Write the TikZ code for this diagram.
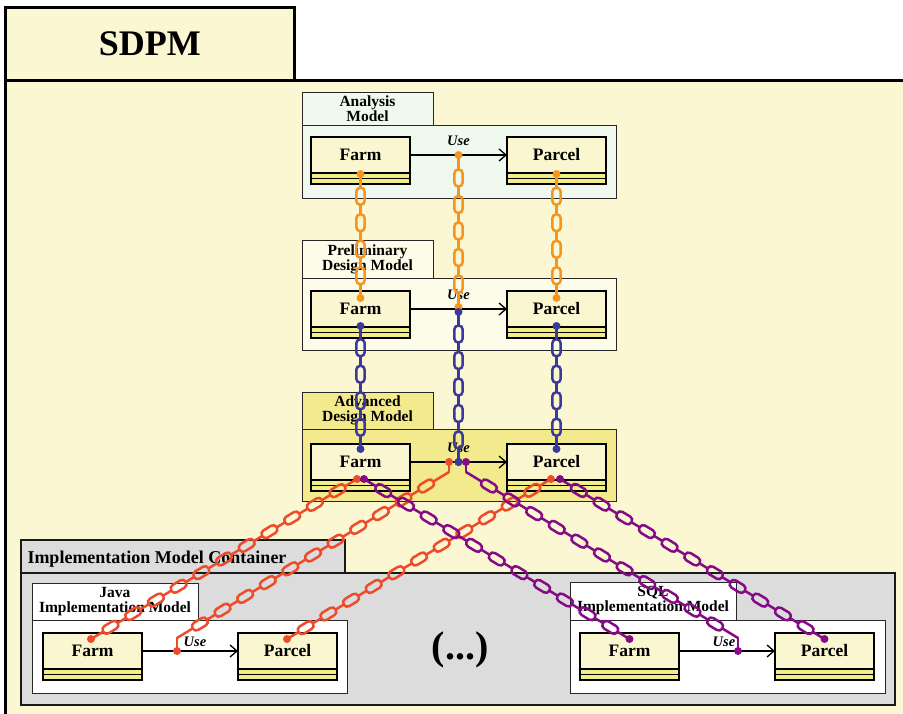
\documentclass[tikz,border=0pt]{standalone}
\usepackage{fontspec}
\setmainfont{Liberation Serif}
\usetikzlibrary{arrows.meta,calc}

\definecolor{bgcream}{HTML}{FAF7D2}
\definecolor{anafill}{HTML}{EFF9EE}
\definecolor{prefill}{HTML}{FDFCE8}
\definecolor{advfill}{HTML}{F2EA8C}
\definecolor{clsfill}{HTML}{FAF7D0}
\definecolor{stripe}{HTML}{F4EE86}
\definecolor{contgray}{HTML}{DCDCDC}
\definecolor{chorange}{HTML}{F7941D}
\definecolor{chblue}{HTML}{3A3A9A}
\definecolor{chred}{HTML}{EE4B2B}
\definecolor{chpurple}{HTML}{850A85}

\tikzset{
  every node/.style={outer sep=0pt, inner sep=0pt},
  pkgbox/.style={draw=black!85, line width=1pt, anchor=north west},
  pkgtext/.style={font=\bfseries\fontsize{15.5}{15}\selectfont, align=center},
  clsname/.style={draw=black, line width=1.3pt, fill=clsfill, anchor=north west,
    minimum width=99pt, minimum height=36pt, font=\bfseries\fontsize{17.5}{18}\selectfont},
  usearrow/.style={line width=1.3pt, -{Straight Barb[length=7pt,width=12pt]}},
  uselabel/.style={font=\bfseries\itshape\fontsize{14.5}{15}\selectfont, anchor=base},
  chainline/.style={line width=2.5pt, line cap=round},
}

% class box: name, x, y, label
\newcommand\classbox[4]{%
  \node[clsname] (#1) at (#2,#3) {#4};
  \draw[line width=1.3pt, fill=stripe] (#1.south west) rectangle ++(99,5.5);
  \draw[line width=1.3pt, fill=stripe] ($(#1.south west)+(0,5.5)$) rectangle ++(99,5.5);
}

% package: name, x, ytab, tabw, tabh, bodyw, bodyh, fill, text
\newcommand\pkgmodel[9]{%
  \node[pkgbox, pkgtext, fill=#8, minimum width=#4pt, minimum height=#5pt] (#1Tab) at (#2,#3) {#9};
  \node[pkgbox, fill=#8, minimum width=#6pt, minimum height=#7pt] (#1Body) at (#1Tab.south west) {};
}

% chain between two named coordinates: start, end, colour
\newcommand\chainpath[3]{%
  \pgfpointdiff{\pgfpointanchor{#1}{center}}{\pgfpointanchor{#2}{center}}%
  \pgfgetlastxy{\chDx}{\chDy}%
  \pgfmathsetmacro\chL{veclen(\chDx,\chDy)}%
  \pgfmathsetmacro\chA{atan2(\chDy,\chDx)}%
  \pgfmathtruncatemacro\chN{max(1,floor((\chL-33)/26.5)+1)}%
  \pgfmathsetmacro\chLast{\chL/2+((\chN-1)/2)*26.5+8.5}%
  \begin{scope}[shift={(#1)}, rotate=\chA, draw=#3, line width=2.5pt]
    \foreach \k in {1,...,\chN}{%
      \pgfmathsetmacro\chC{\chL/2+(\k-(\chN+1)/2)*26.5}%
      \pgfmathsetmacro\chS{\k==1 ? 0 : \chC-26.5+8.5}%
      \pgfmathsetmacro\chCa{\chC-8.5}%
      \pgfmathsetmacro\chCb{\chC+8.5}%
      \draw (\chS pt,0pt) -- (\chCa pt,0pt);
      \draw[rounded corners=4pt] (\chCa pt,-4.2pt) rectangle (\chCb pt,4.2pt);
    }
    \draw (\chLast pt,0pt) -- (\chL pt,0pt);
  \end{scope}
}
\newcommand\chaindot[2]{\fill[#2] (#1) circle (4pt);}

\begin{document}
\begin{tikzpicture}[x=1pt,y=-1pt]
\useasboundingbox (0,0) rectangle (903,713);
\clip (0,0) rectangle (903,713);
\fill[white] (0,0) rectangle (903,713);

% SDPM frame
\draw[line width=3pt, fill=bgcream] (5.5,80) rectangle (930,740);
\node[draw, line width=3pt, fill=bgcream, anchor=north west, minimum width=288.5pt,
  minimum height=73pt, font=\bfseries\fontsize{36}{40}\selectfont] (sdpmTab) at (5.5,7) {SDPM};

% implementation container
\node[draw=black!90, line width=1.8pt, fill=contgray, anchor=north west,
  minimum width=324pt, minimum height=33pt] (contTab) at (21,540) {};
\node[draw=black!90, line width=1.8pt, fill=contgray, anchor=north west,
  minimum width=874pt, minimum height=132pt] (contBody) at (21,573) {};
\node[anchor=base west, font=\bfseries\fontsize{18}{20}\selectfont] (contLabel) at (27.5,563) {Implementation Model Container};

% models
\pkgmodel{ana}{302}{92}{131}{33}{314}{73}{anafill}{Analysis\\Model}
\pkgmodel{pre}{302}{240}{131}{38}{314}{72}{prefill}{Preliminary\\Design Model}
\pkgmodel{adv}{302}{392}{131}{37}{314}{72}{advfill}{Advanced\\Design Model}
\pkgmodel{java}{32}{583}{166}{37}{315}{73}{white}{Java\\Implementation Model}
\pkgmodel{sql}{570}{582}{166}{38}{315}{73}{white}{SQL\\Implementation Model}

% classes
\classbox{anaFarm}{311}{137}{Farm}
\classbox{anaParcel}{507}{137}{Parcel}
\classbox{preFarm}{311}{291}{Farm}
\classbox{preParcel}{507}{291}{Parcel}
\classbox{advFarm}{311}{444}{Farm}
\classbox{advParcel}{507}{444}{Parcel}
\classbox{javaFarm}{43}{633}{Farm}
\classbox{javaParcel}{238}{633}{Parcel}
\classbox{sqlFarm}{580}{633}{Farm}
\classbox{sqlParcel}{775}{633}{Parcel}

% use arrows
\draw[usearrow] (anaFarm.east) -- (anaParcel.west);
\draw[usearrow] (preFarm.east) -- (preParcel.west);
\draw[usearrow] (advFarm.east) -- (advParcel.west);
\draw[usearrow] (javaFarm.east) -- (javaParcel.west);
\draw[usearrow] (sqlFarm.east) -- (sqlParcel.west);

\coordinate (anaMid) at ($(anaFarm.east)!0.5!(anaParcel.west)$);
\coordinate (preMid) at ($(preFarm.east)!0.5!(preParcel.west)$);
\coordinate (advMid) at ($(advFarm.east)!0.5!(advParcel.west)$);
\coordinate (javaMid) at ($(javaFarm.east)!0.5!(javaParcel.west)$);
\coordinate (sqlMid) at ($(sqlFarm.east)!0.5!(sqlParcel.west)$);

\node[uselabel] (anaUse) at ($(anaMid)+(0,-10)$) {Use};
\node[uselabel] (preUse) at ($(preMid)+(0,-10)$) {Use};
\node[uselabel] (advUse) at ($(advMid)+(0,-10)$) {Use};
\node[uselabel] (javaUse) at ($(javaMid)+(5,-5)$) {Use};
\node[uselabel] (sqlUse) at ($(sqlMid)+(-3,-5)$) {Use};

\node[font=\bfseries\fontsize{40}{44}\selectfont] (dots) at (460,650) {(...)};

% chain end points
\coordinate (o1s) at ($(anaFarm.south)+(0,1)$);
\coordinate (o1e) at ($(preFarm.north)+(0,7)$);
\coordinate (o2s) at (anaMid);
\coordinate (o2e) at ($(preMid)+(0,-2)$);
\coordinate (o3s) at ($(anaParcel.south)+(0,1)$);
\coordinate (o3e) at ($(preParcel.north)+(0,7)$);

\coordinate (b1s) at ($(preFarm.south)+(0,-1)$);
\coordinate (b1e) at ($(advFarm.north)+(0,5)$);
\coordinate (b2s) at ($(preMid)+(0,3)$);
\coordinate (b2e) at (advMid);
\coordinate (b3s) at ($(preParcel.south)+(0,-1)$);
\coordinate (b3e) at ($(advParcel.north)+(0,5)$);

\coordinate (r1s) at ($(advFarm.south)+(-3.5,-1)$);
\coordinate (r1e) at ($(javaFarm.north)+(-1.5,6)$);
\coordinate (r2s) at ($(advMid)+(-9.5,0)$);
\coordinate (r2a) at ($(advMid)+(-9.5,10)$);
\coordinate (r2b) at ($(javaMid)+(-13,-13)$);
\coordinate (r2e) at ($(javaMid)+(-13,0)$);
\coordinate (r3s) at ($(advParcel.south)+(-5.5,-1)$);
\coordinate (r3e) at ($(javaParcel.north)+(-0.5,6)$);

\coordinate (p1s) at ($(advFarm.south)+(3.5,-1)$);
\coordinate (p1e) at ($(sqlFarm.north)+(0,6)$);
\coordinate (p2s) at ($(advMid)+(7.5,0)$);
\coordinate (p2a) at ($(advMid)+(7.5,10)$);
\coordinate (p2b) at ($(sqlMid)+(11,-13)$);
\coordinate (p2e) at ($(sqlMid)+(11,0)$);
\coordinate (p3s) at ($(advParcel.south)+(3.5,-1)$);
\coordinate (p3e) at ($(sqlParcel.north)+(0,6)$);

% orange chains
\chainpath{o1s}{o1e}{chorange}
\chainpath{o2s}{o2e}{chorange}
\chainpath{o3s}{o3e}{chorange}
\foreach \c in {o1s,o1e,o2s,o2e,o3s,o3e}{\chaindot{\c}{chorange}}

% blue chains
\chainpath{b1s}{b1e}{chblue}
\chainpath{b2s}{b2e}{chblue}
\chainpath{b3s}{b3e}{chblue}
\foreach \c in {b1s,b1e,b2s,b2e,b3s,b3e}{\chaindot{\c}{chblue}}

% red chains
\chainpath{r1s}{r1e}{chred}
\draw[chainline, chred] (r2s) -- (r2a);
\chainpath{r2a}{r2b}{chred}
\draw[chainline, chred] (r2b) -- (r2e);
\chainpath{r3s}{r3e}{chred}

% purple chains
\chainpath{p1s}{p1e}{chpurple}
\draw[chainline, chpurple] (p2s) -- (p2a);
\chainpath{p2a}{p2b}{chpurple}
\draw[chainline, chpurple] (p2b) -- (p2e);
\chainpath{p3s}{p3e}{chpurple}

\foreach \c in {r1s,r1e,r2s,r2e,r3s,r3e}{\chaindot{\c}{chred}}
\foreach \c in {p1s,p1e,p2s,p2e,p3s,p3e}{\chaindot{\c}{chpurple}}
\chaindot{b2e}{chblue}
\end{tikzpicture}
\end{document}
